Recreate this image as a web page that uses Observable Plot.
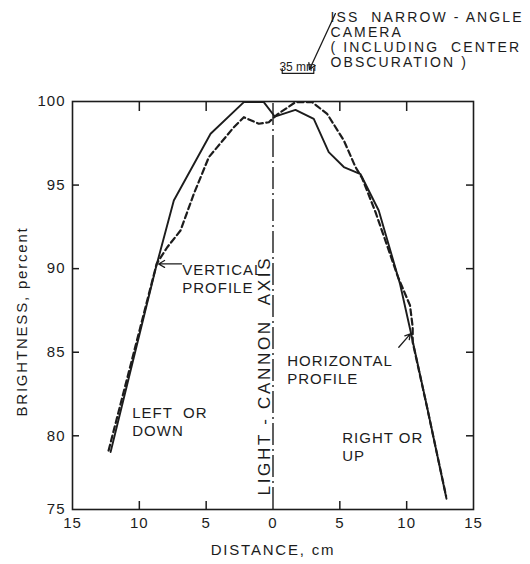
<!DOCTYPE html>
<html>
<head>
<meta charset="utf-8">
<script src="https://cdn.jsdelivr.net/npm/d3@7"></script>
<script src="https://cdn.jsdelivr.net/npm/@observablehq/plot@0.6"></script>
<style>
  body { margin: 0; background: #fff; }
  svg text { letter-spacing: 1px; }
  g[aria-description="scale"] text { letter-spacing: 0; }
  g[aria-description="camera"] text { letter-spacing: 2.1px; }
  g[aria-description="axis-title"] text { letter-spacing: 1.8px; }
  g[aria-description="cannon"] text { letter-spacing: 2.7px; }
</style>
</head>
<body>
<div id="chart"></div>
<script>
// Horizontal profile (solid): distance from the light-cannon axis, cm (left/down negative), brightness, percent
const horizontalX = [-12.15, -8.75, -7.42, -4.67, -2.18, -0.69, 0.13, 1.68, 3.05, 4.17, 5.30, 6.55, 7.91, 9.5, 10.28, 11.53, 12.98];
const horizontalY = [78.9, 90.1, 94.08, 98.07, 99.96, 99.96, 99.1, 99.5, 98.96, 96.97, 96.08, 95.65, 93.48, 89.1, 86.3, 81.71, 75.73];

// Vertical profile (dashed)
const verticalX = [-12.3, -8.7, -7.91, -6.92, -5.92, -4.80, -4.17, -2.93, -2.18, -1.06, -0.31, 0.31, 1.68, 2.93, 4.05, 5.30, 6.17, 6.67, 7.67, 9.35, 10.25, 10.45, 10.45, 11.5, 12.95];
const verticalY = [79.0, 90.3, 91.28, 92.28, 94.48, 96.67, 97.27, 98.46, 99.06, 98.67, 98.76, 99.22, 99.96, 99.96, 99.26, 97.67, 96.08, 95.41, 93.38, 89.5, 87.8, 86.5, 85.6, 81.8, 75.9];

// Tick values
const xTicks = [-15, -10, -5, 0, 5, 10, 15];
const xInnerTicks = [-10, -5, 5, 10];
const yTicks = [75, 80, 85, 90, 95, 100];
const yInnerTicks = [80, 85, 90, 95];

// Annotations (data coordinates)
const noteX = [-6.79, -10.53, 1.06, 5.18];
const noteY = [88.56, 80.0, 83.07, 78.32];
const noteText = ["VERTICAL\nPROFILE", "LEFT  OR\nDOWN", "HORIZONTAL\nPROFILE", "RIGHT OR\nUP"];

const cameraNote = {x: 4.3, y: 102.09, text: "ISS  NARROW - ANGLE\nCAMERA\n( INCLUDING  CENTER\nOBSCURATION )"};
const scaleNote = {x: 1.85, y: 101.85, text: "35 mm"};
const scaleBracketX = [0.69, 0.69, 3.05, 3.05];
const scaleBracketY = [101.97, 101.68, 101.68, 101.97];

const arrowsFrom = [[-6.84, 90.28], [9.41, 85.3], [4.67, 105.26]];
const arrowsTo = [[-8.56, 90.28], [10.28, 86.1], [2.73, 101.91]];

const toRows = (xs, ys) => xs.map((x, i) => ({x, y: ys[i]}));
const horizontal = toRows(horizontalX, horizontalY);
const vertical = toRows(verticalX, verticalY);
const notes = noteText.map((text, i) => ({x: noteX[i], y: noteY[i], text}));
const bracket = toRows(scaleBracketX, scaleBracketY);
const arrows = arrowsFrom.map((a, i) => ({x1: a[0], y1: a[1], x2: arrowsTo[i][0], y2: arrowsTo[i][1]}));

const ink = "#1c1c1c";
const W = 530, H = 564, mL = 72, mR = 57, mT = 101, mB = 55;
const frameW = W - mL - mR, frameH = H - mT - mB;

const chart = Plot.plot({
  width: W,
  height: H,
  marginLeft: mL,
  marginRight: mR,
  marginTop: mT,
  marginBottom: mB,
  style: {fontFamily: "'Liberation Sans', Arial, sans-serif", color: ink, background: "#fff", overflow: "visible"},
  x: {domain: [-15, 15]},
  // the drawn brightness axis is slightly compressed between 75 and 80
  y: {type: "linear", domain: [75, 80, 100], range: [509, 435.3, 101]},
  marks: [
    Plot.frame({stroke: ink, strokeWidth: 1.6}),
    // tick labels
    Plot.axisY({anchor: "left", ticks: yTicks, tickSize: 0, tickPadding: 7, fontSize: 15, label: null}),
    Plot.axisX({anchor: "bottom", ticks: xTicks, tickSize: 0, tickPadding: 8, tickFormat: d => Math.abs(d), fontSize: 15, label: null}),
    // inward tick marks on all four sides
    Plot.ruleY(yInnerTicks, {stroke: ink, strokeWidth: 1.5, insetRight: frameW - 7}),
    Plot.ruleY(yInnerTicks, {stroke: ink, strokeWidth: 1.5, insetLeft: frameW - 7}),
    Plot.ruleX(xInnerTicks, {stroke: ink, strokeWidth: 1.5, insetTop: frameH - 8}),
    Plot.ruleX(xInnerTicks, {stroke: ink, strokeWidth: 1.5, insetBottom: frameH - 10}),
    Plot.text(["BRIGHTNESS, percent"], {frameAnchor: "left", textAnchor: "middle", lineAnchor: "middle", rotate: -90, dx: -50, dy: 16, fontSize: 15, ariaDescription: "axis-title"}),
    Plot.text(["DISTANCE, cm"], {frameAnchor: "bottom", dy: 45, fontSize: 15, ariaDescription: "axis-title"}),
    // light-cannon axis
    Plot.ruleX([0], {y1: 75, y2: 100, stroke: ink, strokeWidth: 1.4, strokeDasharray: "22,4,2,4"}),
    Plot.text(["LIGHT - CANNON  AXIS"], {x: -0.62, y: 83.6, rotate: -90, fontSize: 17, ariaDescription: "cannon"}),
    // brightness profiles
    Plot.line(horizontal, {x: "x", y: "y", stroke: ink, strokeWidth: 1.9}),
    Plot.line(vertical, {x: "x", y: "y", stroke: ink, strokeWidth: 2.2, strokeDasharray: "6,3.5"}),
    // labels and pointers
    Plot.text(notes, {x: "x", y: "y", text: "text", textAnchor: "start", lineAnchor: "bottom", lineHeight: 1.2, fontSize: 15}),
    Plot.text([cameraNote], {x: "x", y: "y", text: "text", textAnchor: "start", lineAnchor: "bottom", lineHeight: 1.05, fontSize: 14, ariaDescription: "camera"}),
    Plot.text([scaleNote], {x: "x", y: "y", text: "text", lineAnchor: "bottom", fontSize: 12, ariaDescription: "scale"}),
    Plot.line(bracket, {x: "x", y: "y", stroke: ink, strokeWidth: 1.2}),
    Plot.arrow(arrows, {x1: "x1", y1: "y1", x2: "x2", y2: "y2", stroke: ink, strokeWidth: 1.3, headLength: 8})
  ]
});

document.getElementById("chart").append(chart);
</script>
</body>
</html>
